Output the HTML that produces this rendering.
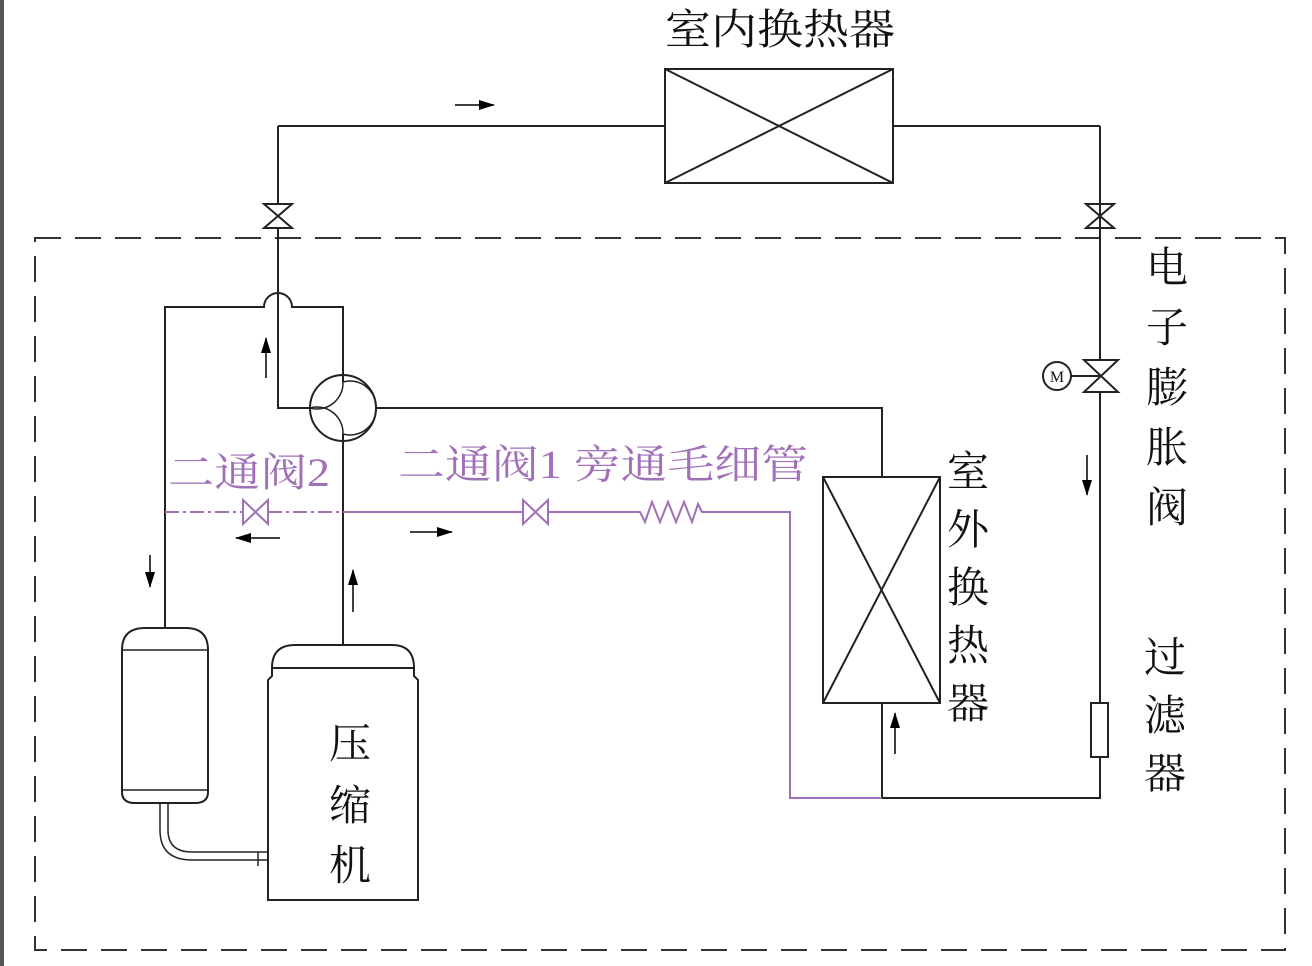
<!DOCTYPE html>
<html><head><meta charset="utf-8"><style>
body{margin:0;background:#fff;}
svg{display:block}
text{font-family:"Liberation Serif","Noto Serif CJK SC",serif;}
</style></head><body>
<svg width="1312" height="966" viewBox="0 0 1312 966" xmlns="http://www.w3.org/2000/svg">
<rect x="0" y="0" width="4" height="966" fill="#555"/>
<defs>
<marker id="ah" markerWidth="16" markerHeight="12" refX="15" refY="6" orient="auto" markerUnits="userSpaceOnUse"><path d="M0,1 L16,6 L0,11 Z" fill="#000"/></marker>
</defs>
<g stroke="#222" stroke-width="2" fill="none">
<rect x="35" y="238" width="1250" height="712" stroke="#333" stroke-dasharray="26,14"/>
<rect x="665" y="69" width="228" height="114"/>
<path d="M665,69 L893,183 M893,69 L665,183"/>
<path d="M278,126 H665 M893,126 H1100"/>
<path d="M278,126 V408 H310"/>
<path d="M264,204 H292 L264,228 H292 Z" fill="#fff"/>
<path d="M1086,204 H1114 L1086,228 H1114 Z" fill="#fff"/>
<path d="M1100,126 V798 H882"/>
<path d="M1084,360 H1118 L1084,392 H1118 Z" fill="#fff"/>
<line x1="1071" y1="376" x2="1100" y2="376"/>
<circle cx="1057" cy="376" r="14" fill="#fff"/>
<rect x="1091" y="703" width="17" height="54" fill="#fff"/>
<path d="M165,628 V307 H264 A14,14 0 0 1 292,307 H343 V645"/>
<circle cx="343" cy="408" r="33" fill="#fff"/>
<path d="M310,408 A26,26 0 0 0 343,382 M376,408 A26,26 0 0 0 343,382 M310,408 A26,26 0 0 1 343,434 M376,408 A26,26 0 0 1 343,434" stroke-width="1.5"/>
<path d="M343,375 V382 M343,441 V434"/>
<path d="M376,408 H882 V477"/>
<rect x="823" y="477" width="117" height="226"/>
<path d="M823,477 L940,703 M940,477 L823,703"/>
<path d="M882,703 V798"/>
<path d="M122,650 Q122,628 145,628 H186 Q208,628 208,650 V792 Q208,803 195,803 H135 Q122,803 122,792 Z" fill="#fff"/>
<path d="M122,650 H208 M122,790 H208" stroke-width="1.5"/>
<path d="M160,803 V830 Q160,860 192,860 H268 M168,803 V830 Q168,852 192,852 H268" stroke-width="1.5"/>
<path d="M258,852 V866" stroke-width="1.5"/>
<path d="M272,668 Q272,645 295,645 H392 Q414,645 414,668 Z M268,680 V900 H418 V680 L414,676 V668 H272 V676 Z" fill="#fff"/>
</g>
<g stroke="#000" stroke-width="1.5" marker-end="url(#ah)">
<line x1="455" y1="105" x2="494" y2="105"/>
<line x1="266" y1="378" x2="266" y2="338"/>
<line x1="150" y1="555" x2="150" y2="587"/>
<line x1="353" y1="612" x2="353" y2="570"/>
<line x1="280" y1="538" x2="236" y2="538"/>
<line x1="410" y1="532" x2="452" y2="532"/>
<line x1="895" y1="754" x2="895" y2="713"/>
<line x1="1087" y1="455" x2="1087" y2="495"/>
</g>
<g stroke="#a070b8" stroke-width="2" fill="none">
<path d="M165,512 H243" stroke-dasharray="14,4,3,4"/>
<path d="M268,512 H343" stroke-dasharray="14,4,3,4"/>
<path d="M343,512 H523 M548,512 H640 L645,522 L652,502 L660,522 L668,502 L676,522 L684,502 L692,522 L698,504 L702,512 H790 V798 H882"/>
<path d="M243,500 V524 L268,500 V524 Z M523,500 V524 L548,500 V524 Z"/>
</g>
<g fill="#a070b8" font-size="40">
<text x="168" y="486" textLength="162" lengthAdjust="spacingAndGlyphs">二通阀2</text>
<text x="398" y="478" textLength="410" lengthAdjust="spacingAndGlyphs">二通阀1 旁通毛细管</text>
</g>
<g fill="#111" font-size="42">
<text x="665" y="44" textLength="230" lengthAdjust="spacingAndGlyphs">室内换热器</text>
<text x="350" y="758" text-anchor="middle">压</text>
<text x="350" y="820" text-anchor="middle">缩</text>
<text x="350" y="880" text-anchor="middle">机</text>
<text x="968" y="486" text-anchor="middle">室</text>
<text x="968" y="544" text-anchor="middle">外</text>
<text x="968" y="602" text-anchor="middle">换</text>
<text x="968" y="660" text-anchor="middle">热</text>
<text x="968" y="718" text-anchor="middle">器</text>
<text x="1167" y="282" text-anchor="middle">电</text>
<text x="1167" y="342" text-anchor="middle">子</text>
<text x="1167" y="402" text-anchor="middle">膨</text>
<text x="1167" y="462" text-anchor="middle">胀</text>
<text x="1167" y="522" text-anchor="middle">阀</text>
<text x="1165" y="672" text-anchor="middle">过</text>
<text x="1165" y="730" text-anchor="middle">滤</text>
<text x="1165" y="788" text-anchor="middle">器</text>
<text x="1057" y="382" font-size="16" text-anchor="middle" font-family="Liberation Sans, sans-serif">M</text>
</g>
</svg>
</body></html>
